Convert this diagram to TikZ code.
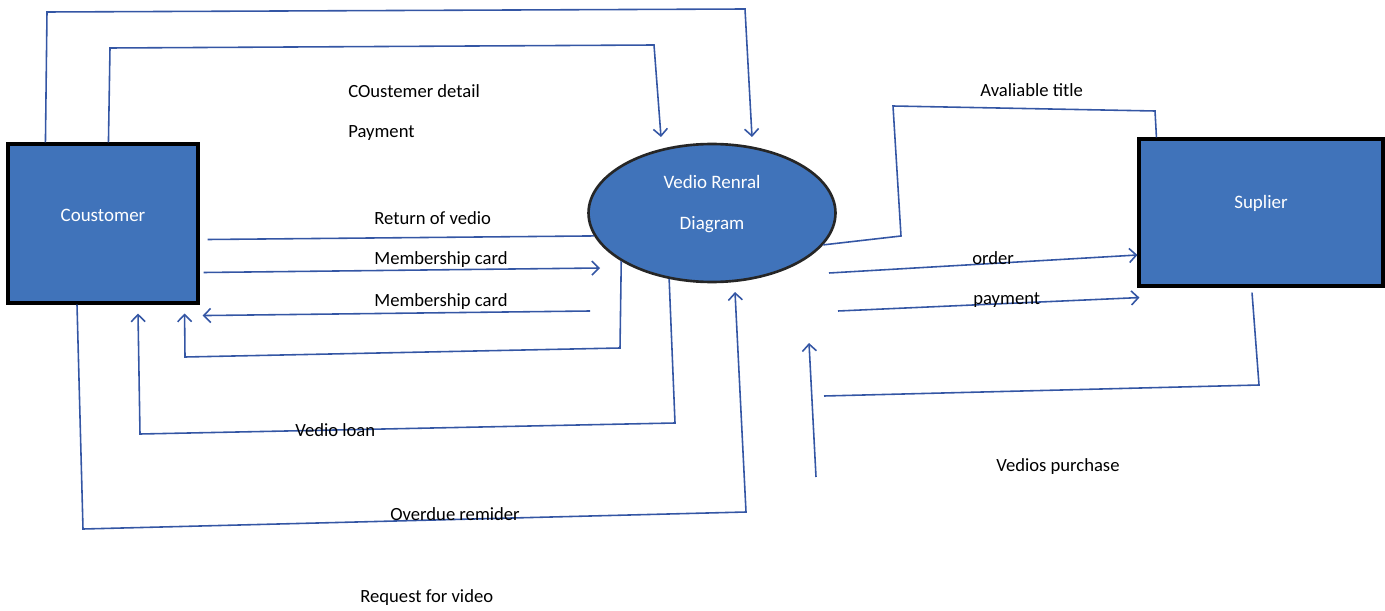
\documentclass[tikz,border=0pt]{standalone}
\usepackage{fontspec}
\setmainfont{Carlito}
\usetikzlibrary{arrows, arrows.meta, shapes.geometric, calc}
\definecolor{boxblue}{RGB}{64,115,186}
\definecolor{flowblue}{RGB}{52,86,164}

\begin{document}
\begin{tikzpicture}[x=0.02cm, y=-0.02cm,
  flow/.style={draw=flowblue, line width=0.9pt},
  arr/.style={flow, -{Straight Barb[length=4pt,width=8pt]}},
  entity/.style={rectangle, draw=black, line width=1.8pt, fill=boxblue, inner sep=0pt},
  proc/.style={ellipse, draw=black!85, line width=1.5pt, fill=boxblue, inner sep=0pt},
  inlabel/.style={text=white, font=\fontsize{10.8}{13}\selectfont},
  flowlabel/.style={anchor=west, inner sep=0pt, font=\fontsize{10.6}{13}\selectfont}]
\useasboundingbox (0,0) rectangle (1385,611);

%Entities and the process
\node[entity, minimum width=3.8cm, minimum height=3.18cm] (cust) at (103,223.5) {};
\node[inlabel] (custname) at (103,215) {Coustomer};
\node[proc, minimum width=4.94cm, minimum height=2.76cm] (rental) at (712,213) {};
\node[inlabel] (rentalname) at (712,182) {Vedio Renral};
\node[inlabel] (rentaldiag) at (712,225) {Diagram};
\node[entity, minimum width=4.88cm, minimum height=2.94cm] (supl) at (1261,212.5) {};
\node[inlabel] (suplname) at (1261,203) {Suplier};

%Free ends
\coordinate (payin) at (752,137);
\coordinate (detailin) at (661,137);
\coordinate (cardin) at (600,268);
\coordinate (cardout) at (590,311);
\coordinate (reqin) at (735,292);
\coordinate (orderout) at (829,273);
\coordinate (payout) at (838,311);
\coordinate (purchout) at (824,396);
\coordinate (purchfrom) at (816,477);
\coordinate (purchto) at (809,343);

%Customer to rental, over the top
\draw[arr] ($(cust.north west)+(39,0)$) -- (47,12) -- (745,9) -- (payin);
\draw[arr] ($(cust.north west)+(102,0)$) -- (110,48) -- (654,45) -- (detailin);
\node[flowlabel] (detaillbl) at (348,91) {COustemer detail};
\node[flowlabel] (paylbl) at (348,133) {Payment};

%Return of vedio
\draw[flow] ($(cust.east)+(8,16)$) -- (rental.191);
\node[flowlabel] (returnlbl) at (374,218) {Return of vedio};

%Membership card
\draw[arr] ($(cust.east)+(4,49)$) -- (cardin);
\node[flowlabel] (cardlbl) at (374,260) {Membership card};
\draw[arr] (cardout) -- ($(cust.south east)+(3,11)$);
\node[flowlabel] (cardlblb) at (374,302) {Membership card};
\draw[arr] (rental.208) -- (620,348) -- (185,357) -- ($(cust.south east)+(-15,9)$);

%Vedio loan
\draw[arr] (rental.237) -- (675,423) -- (140,434) -- ($(cust.south)+(35,9)$);
\node[flowlabel] (loanlbl) at (295,430) {Vedio loan};

%Overdue remider and request
\draw[arr] ($(cust.south)+(-26,0)$) -- (83,529) -- (746,512) -- (reqin);
\node[flowlabel] (overduelbl) at (390,514) {Overdue remider};
\node[flowlabel] (reqlbl) at (360,598) {Request for video};

%Suplier side
\draw[flow] (rental.344) -- (901,236) -- (893,106) -- (1155,111) -- ($(supl.north west)+(19,0)$);
\node[flowlabel] (titlelbl) at (980,90) {Avaliable title};
\draw[arr] (orderout) -- ($(supl.west)+(0,42.5)$);
\node[flowlabel] (orderlbl) at (972,258) {order};
\draw[arr] (payout) -- ($(supl.south west)+(2,10)$);
\node[flowlabel] (paymentlbl) at (973,300) {payment};
\draw[flow] ($(supl.south)+(-9,5)$) -- (1259,385) -- (purchout);
\draw[arr] (purchfrom) -- (purchto);
\node[flowlabel] (purchlbl) at (996,467) {Vedios purchase};

\end{tikzpicture}
\end{document}
